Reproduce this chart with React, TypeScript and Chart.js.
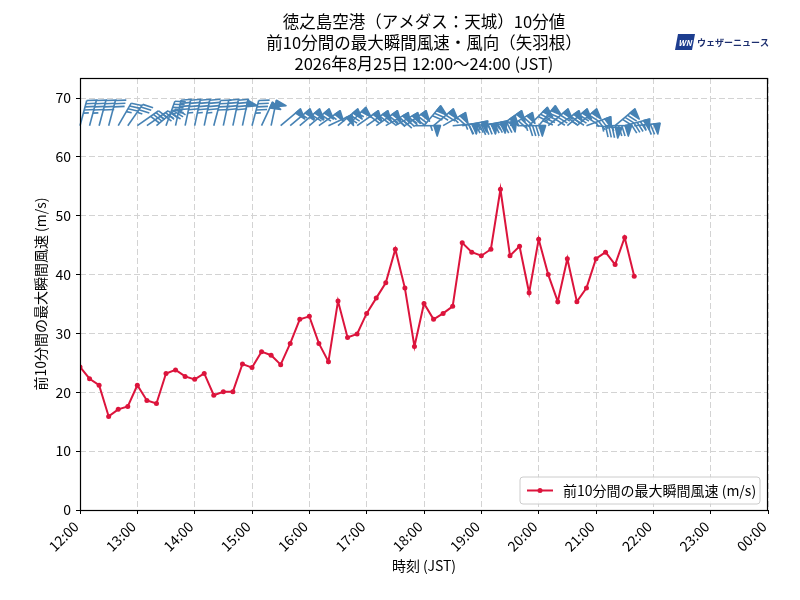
import React, { useEffect, useRef } from 'react';
import { Chart, registerables } from 'chart.js';

Chart.register(...registerables);

const FONT = '"Noto Sans CJK JP", "Noto Sans", sans-serif';

const titleLines = [
  '徳之島空港（アメダス：天城）10分値',
  '前10分間の最大瞬間風速・風向（矢羽根）',
  '2026年8月25日 12:00〜24:00 (JST)',
];
const seriesLabel = '前10分間の最大瞬間風速 (m/s)';
const xAxisTitle = '時刻 (JST)';
const yAxisTitle = '前10分間の最大瞬間風速 (m/s)';

const times = [
  '12:00', '12:10', '12:20', '12:30', '12:40', '12:50',
  '13:00', '13:10', '13:20', '13:30', '13:40', '13:50',
  '14:00', '14:10', '14:20', '14:30', '14:40', '14:50',
  '15:00', '15:10', '15:20', '15:30', '15:40', '15:50',
  '16:00', '16:10', '16:20', '16:30', '16:40', '16:50',
  '17:00', '17:10', '17:20', '17:30', '17:40', '17:50',
  '18:00', '18:10', '18:20', '18:30', '18:40', '18:50',
  '19:00', '19:10', '19:20', '19:30', '19:40', '19:50',
  '20:00', '20:10', '20:20', '20:30', '20:40', '20:50',
  '21:00', '21:10', '21:20', '21:30', '21:40',
];

const gustSpeed = [
  24.3, 22.3, 21.2, 15.9, 17.1, 17.6,
  21.2, 18.6, 18.1, 23.2, 23.8, 22.7,
  22.2, 23.2, 19.5, 20.1, 20.1, 24.8,
  24.2, 26.9, 26.3, 24.7, 28.3, 32.4,
  32.9, 28.3, 25.2, 35.5, 29.3, 29.9,
  33.4, 36.0, 38.6, 44.3, 37.7, 27.8,
  35.1, 32.4, 33.4, 34.6, 45.4, 43.8,
  43.2, 44.3, 54.5, 43.2, 44.8, 36.9,
  46.0, 40.0, 35.4, 42.7, 35.4, 37.7,
  42.7, 43.8, 41.7, 46.3, 39.7,
];

// wind-from direction in degrees (0 = N, 90 = E)
const windDirDeg = [
  15, 15, 15, 15, 30, 35,
  55, 55, 50, 20, 12, 12,
  12, 12, 15, 12, 12, 12,
  15, 25, 12, 50, 50, 50,
  50, 55, 65, 50, 45, 55,
  55, 55, 60, 60, 55, 90,
  40, 50, 60, 85, 80, 85,
  80, 80, 55, 60, 90, 45,
  40, 50, 55, 50, 50, 70,
  95, 90, 50, 75, 85,
];

const xTickLabels = [
  '12:00', '13:00', '14:00', '15:00', '16:00', '17:00', '18:00',
  '19:00', '20:00', '21:00', '22:00', '23:00', '00:00',
];
const yTickValues = [0, 10, 20, 30, 40, 50, 60, 70];
const yMax = 73.4;
const barbLevel = 65.3;

function toMin(t: string): number {
  const [h, m] = t.split(':').map(Number);
  return h * 60 + m;
}
const xTickValues = xTickLabels.map((_, i) => 720 + i * 60);

const BARB_COLOR = '#4682b4';
const LINE_COLOR = '#dc143c';

const barbPlugin = {
  id: 'barbs',
  afterDatasetsDraw(chart: any) {
    const { ctx, scales } = chart;
    const xs = scales.x;
    const ys = scales.y;
    const L = 26;
    const h = L * 0.4;
    const w = L * 0.25;
    const sp = L * 0.125;
    ctx.save();
    ctx.strokeStyle = BARB_COLOR;
    ctx.fillStyle = BARB_COLOR;
    ctx.lineWidth = 1.6;
    ctx.lineJoin = 'round';
    ctx.lineCap = 'butt';
    times.forEach((t, i) => {
      const bx = xs.getPixelForValue(toMin(t));
      const by = ys.getPixelForValue(barbLevel);
      const th = (windDirDeg[i] * Math.PI) / 180;
      const d = [Math.sin(th), -Math.cos(th)];
      const p = [Math.cos(th), Math.sin(th)];
      const P = (lx: number, ly: number) => [bx + lx * p[0] + ly * d[0], by + lx * p[1] + ly * d[1]];
      const kt = gustSpeed[i] * 1.94384;
      let mag = 5 * Math.round(kt / 5);
      const nflags = Math.floor(mag / 50);
      mag -= nflags * 50;
      const nbarbs = Math.floor(mag / 10);
      mag -= nbarbs * 10;
      const half = mag >= 5;
      ctx.beginPath();
      const a = P(0, 0);
      const b = P(0, L);
      ctx.moveTo(a[0], a[1]);
      ctx.lineTo(b[0], b[1]);
      ctx.stroke();
      let off = L;
      for (let k = 0; k < nflags; k++) {
        if (off !== L) off += sp / 2;
        const q1 = P(0, off);
        const q2 = P(h, off - w / 2);
        const q3 = P(0, off - w);
        ctx.beginPath();
        ctx.moveTo(q1[0], q1[1]);
        ctx.lineTo(q2[0], q2[1]);
        ctx.lineTo(q3[0], q3[1]);
        ctx.closePath();
        ctx.fill();
        ctx.stroke();
        off -= w + sp;
      }
      for (let k = 0; k < nbarbs; k++) {
        const q1 = P(0, off);
        const q2 = P(h, off + w / 2);
        ctx.beginPath();
        ctx.moveTo(q1[0], q1[1]);
        ctx.lineTo(q2[0], q2[1]);
        ctx.stroke();
        off -= sp;
      }
      if (half) {
        if (off === L) off -= 1.5 * sp;
        const q1 = P(0, off);
        const q2 = P(h / 2, off + w / 4);
        ctx.beginPath();
        ctx.moveTo(q1[0], q1[1]);
        ctx.lineTo(q2[0], q2[1]);
        ctx.stroke();
      }
    });
    ctx.restore();
  },
};

const decorPlugin = {
  id: 'decor',
  afterDraw(chart: any) {
    const { ctx, chartArea } = chart;
    const { left, right, top, bottom } = chartArea;
    const cx = (left + right) / 2;
    ctx.save();
    // frame
    ctx.strokeStyle = '#000';
    ctx.lineWidth = 1.2;
    ctx.setLineDash([]);
    ctx.strokeRect(left + 0.5, top + 0.5, right - left - 1, bottom - top);

    // title
    ctx.fillStyle = '#000';
    ctx.textAlign = 'center';
    ctx.textBaseline = 'middle';
    ctx.font = `16.5px ${FONT}`;
    titleLines.forEach((s, i) => ctx.fillText(s, cx, 22 + i * 21));

    // axis titles
    ctx.font = `14px ${FONT}`;
    ctx.fillText(xAxisTitle, cx, 566);
    ctx.save();
    ctx.translate(41, (top + bottom) / 2);
    ctx.rotate(-Math.PI / 2);
    ctx.fillText(yAxisTitle, 0, 0);
    ctx.restore();

    // legend
    const lx = 520, ly = 477, lw = 240, lh = 27;
    ctx.beginPath();
    const r = 3;
    ctx.moveTo(lx + r, ly);
    ctx.lineTo(lx + lw - r, ly);
    ctx.quadraticCurveTo(lx + lw, ly, lx + lw, ly + r);
    ctx.lineTo(lx + lw, ly + lh - r);
    ctx.quadraticCurveTo(lx + lw, ly + lh, lx + lw - r, ly + lh);
    ctx.lineTo(lx + r, ly + lh);
    ctx.quadraticCurveTo(lx, ly + lh, lx, ly + lh - r);
    ctx.lineTo(lx, ly + r);
    ctx.quadraticCurveTo(lx, ly, lx + r, ly);
    ctx.closePath();
    ctx.fillStyle = 'rgba(255,255,255,0.85)';
    ctx.fill();
    ctx.strokeStyle = '#cccccc';
    ctx.lineWidth = 1;
    ctx.stroke();
    ctx.strokeStyle = LINE_COLOR;
    ctx.lineWidth = 2;
    ctx.beginPath();
    ctx.moveTo(527, ly + lh / 2);
    ctx.lineTo(553, ly + lh / 2);
    ctx.stroke();
    ctx.fillStyle = LINE_COLOR;
    ctx.beginPath();
    ctx.arc(540, ly + lh / 2, 2.5, 0, Math.PI * 2);
    ctx.fill();
    ctx.fillStyle = '#000';
    ctx.textAlign = 'left';
    ctx.font = `14px ${FONT}`;
    ctx.fillText(seriesLabel, 563, ly + lh / 2);

    // watermark logo
    ctx.fillStyle = '#1d3d8f';
    ctx.beginPath();
    ctx.moveTo(678, 34);
    ctx.lineTo(695, 34);
    ctx.lineTo(692, 50);
    ctx.lineTo(675, 50);
    ctx.closePath();
    ctx.fill();
    ctx.fillStyle = '#fff';
    ctx.font = `italic bold 8px ${FONT}`;
    ctx.textAlign = 'center';
    ctx.fillText('WN', 685, 42.5);
    ctx.fillStyle = '#1d2f6f';
    ctx.font = `bold 9px ${FONT}`;
    ctx.textAlign = 'left';
    ctx.fillText('ウェザーニュース', 697, 42.5);
    ctx.restore();
  },
};

export default function App() {
  const canvasRef = useRef<HTMLCanvasElement | null>(null);

  useEffect(() => {
    const canvas = canvasRef.current;
    if (!canvas) return;
    const chart = new Chart(canvas, {
      type: 'line',
      data: {
        datasets: [
          {
            label: seriesLabel,
            data: times.map((t, i) => ({ x: toMin(t), y: gustSpeed[i] })),
            borderColor: LINE_COLOR,
            backgroundColor: LINE_COLOR,
            borderWidth: 2,
            pointRadius: 2.5,
            pointHoverRadius: 2.5,
            pointBorderWidth: 0,
            tension: 0,
          },
        ],
      },
      options: {
        animation: false,
        responsive: false,
        maintainAspectRatio: false,
        devicePixelRatio: 1,
        layout: { padding: { top: 78, right: 32, left: 0, bottom: 0 } },
        plugins: {
          legend: { display: false },
          title: { display: false },
          tooltip: { enabled: false },
        },
        scales: {
          x: {
            type: 'linear',
            min: 720,
            max: 1440,
            afterBuildTicks: (scale: any) => {
              scale.ticks = xTickValues.map((v) => ({ value: v }));
            },
            afterFit: (scale: any) => {
              scale.height = 90;
            },
            ticks: {
              autoSkip: false,
              maxRotation: 45,
              minRotation: 45,
              padding: 4,
              labelOffset: -4,
              color: '#000',
              font: { family: FONT, size: 14 },
              callback: (v: any) => {
                const idx = xTickValues.indexOf(Number(v));
                return idx >= 0 ? xTickLabels[idx] : '';
              },
            },
            grid: {
              color: '#d3d3d3',
              lineWidth: 1,
              tickLength: 4,
              tickColor: '#000',
              tickWidth: 1,
              tickBorderDash: [],
            },
            border: { display: false, dash: [6, 3] },
          },
          y: {
            type: 'linear',
            min: 0,
            max: yMax,
            afterBuildTicks: (scale: any) => {
              scale.ticks = yTickValues.map((v) => ({ value: v }));
            },
            afterFit: (scale: any) => {
              scale.width = 80;
            },
            ticks: {
              padding: 5,
              color: '#000',
              font: { family: FONT, size: 14 },
              callback: (v: any) => String(v),
            },
            grid: {
              color: '#d3d3d3',
              lineWidth: 1,
              tickLength: 4,
              tickColor: '#000',
              tickWidth: 1,
              tickBorderDash: [],
            },
            border: { display: false, dash: [6, 3] },
          },
        },
      },
      plugins: [barbPlugin, decorPlugin],
    } as any);
    return () => chart.destroy();
  }, []);

  return (
    <div style={{ position: 'absolute', left: 0, top: 0, width: 800, height: 600, background: '#fff' }}>
      <canvas ref={canvasRef} width={800} height={600} style={{ width: 800, height: 600, display: 'block' }} />
    </div>
  );
}
